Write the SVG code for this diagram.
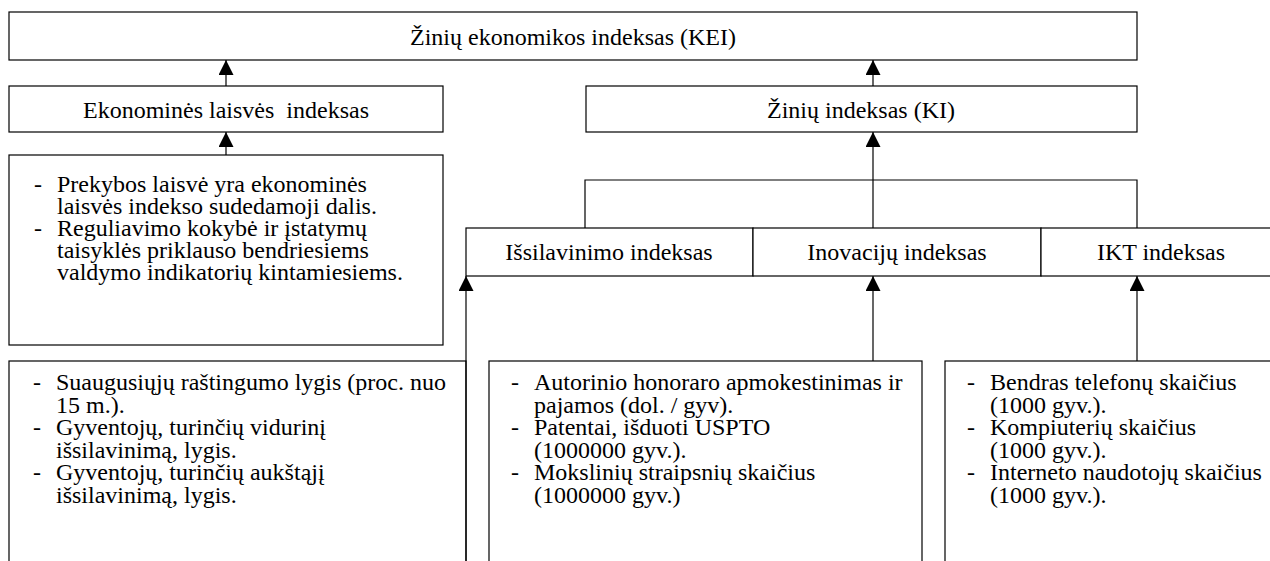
<svg xmlns="http://www.w3.org/2000/svg" width="1270" height="561" viewBox="0 0 1270 561">
<defs>
<style>
.box{fill:#fff;stroke:#000;stroke-width:1.2}
.t{font-family:"Liberation Serif","Times New Roman",serif;font-size:24px;fill:#000}
.c{text-anchor:middle}
.ln{fill:none;stroke:#000;stroke-width:1.2}
.ar{fill:none;stroke:#000;stroke-width:1.2;marker-end:url(#ah)}
</style>
<marker id="ah" markerUnits="userSpaceOnUse" markerWidth="16" markerHeight="16" refX="15" refY="7.5" orient="auto">
<path d="M0,0 L15,7.5 L0,15 z" fill="#000"/>
</marker>
</defs>
<rect width="1270" height="561" fill="#fff"/>

<g id="kei">
<rect class="box" x="9" y="12" width="1128" height="48"/>
<text class="t c" x="573" y="45">Žinių ekonomikos indeksas (KEI)</text>
</g>
<g id="eli">
<rect class="box" x="9" y="86" width="434" height="46"/>
<text class="t c" x="226" y="118" xml:space="preserve">Ekonominės laisvės  indeksas</text>
</g>
<g id="ki">
<rect class="box" x="586" y="86" width="551" height="46"/>
<text class="t c" x="861" y="118">Žinių indeksas (KI)</text>
</g>
<g id="eli-desc">
<rect class="box" x="9" y="155" width="434" height="190"/>
<text class="t" x="34" y="192">-</text>
<text class="t" x="57" y="192">Prekybos laisvė yra ekonominės</text>
<text class="t" x="57" y="214">laisvės indekso sudedamoji dalis.</text>
<text class="t" x="34" y="236">-</text>
<text class="t" x="57" y="236">Reguliavimo kokybė ir įstatymų</text>
<text class="t" x="57" y="258">taisyklės priklauso bendriesiems</text>
<text class="t" x="57" y="280">valdymo indikatorių kintamiesiems.</text>
</g>
<g id="edu">
<rect class="box" x="466" y="228" width="287" height="48"/>
<text class="t c" x="609" y="260">Išsilavinimo indeksas</text>
</g>
<g id="inn">
<rect class="box" x="753" y="228" width="288" height="48"/>
<text class="t c" x="897" y="260">Inovacijų indeksas</text>
</g>
<g id="ikt">
<rect class="box" x="1041" y="228" width="250" height="48"/>
<text class="t c" x="1161" y="260">IKT indeksas</text>
</g>
<g id="edu-desc">
<rect class="box" x="9" y="361" width="457" height="230"/>
<text class="t" x="33" y="390">-</text>
<text class="t" x="56" y="390">Suaugusiųjų raštingumo lygis (proc. nuo</text>
<text class="t" x="56" y="412.5">15 m.).</text>
<text class="t" x="33" y="435">-</text>
<text class="t" x="56" y="435">Gyventojų, turinčių vidurinį</text>
<text class="t" x="56" y="457.5">išsilavinimą, lygis.</text>
<text class="t" x="33" y="480">-</text>
<text class="t" x="56" y="480">Gyventojų, turinčių aukštąjį</text>
<text class="t" x="56" y="502.5">išsilavinimą, lygis.</text>
</g>
<g id="inn-desc">
<rect class="box" x="489" y="361" width="433" height="230"/>
<text class="t" x="511" y="390">-</text>
<text class="t" x="534" y="390">Autorinio honoraro apmokestinimas ir</text>
<text class="t" x="534" y="412.5">pajamos (dol. / gyv).</text>
<text class="t" x="511" y="435">-</text>
<text class="t" x="534" y="435">Patentai, išduoti USPTO</text>
<text class="t" x="534" y="457.5">(1000000 gyv.).</text>
<text class="t" x="511" y="480">-</text>
<text class="t" x="534" y="480">Mokslinių straipsnių skaičius</text>
<text class="t" x="534" y="502.5">(1000000 gyv.)</text>
</g>
<g id="ikt-desc">
<rect class="box" x="945" y="361" width="340" height="230"/>
<text class="t" x="967" y="390">-</text>
<text class="t" x="990" y="390">Bendras telefonų skaičius</text>
<text class="t" x="990" y="412.5">(1000 gyv.).</text>
<text class="t" x="967" y="435">-</text>
<text class="t" x="990" y="435">Kompiuterių skaičius</text>
<text class="t" x="990" y="457.5">(1000 gyv.).</text>
<text class="t" x="967" y="480">-</text>
<text class="t" x="990" y="480">Interneto naudotojų skaičius</text>
<text class="t" x="990" y="502.5">(1000 gyv.).</text>
</g>

<g id="connectors">
<line class="ar" x1="226" y1="86" x2="226" y2="60"/>
<line class="ar" x1="873" y1="86" x2="873" y2="60"/>
<line class="ar" x1="226" y1="155" x2="226" y2="132"/>
<polyline class="ln" points="585,228 585,180 1137,180 1137,228"/>
<line class="ar" x1="873" y1="228" x2="873" y2="132"/>
<line class="ar" x1="466" y1="561" x2="466" y2="276"/>
<line class="ar" x1="873" y1="361" x2="873" y2="276"/>
<line class="ar" x1="1137" y1="361" x2="1137" y2="276"/>
</g>
</svg>
